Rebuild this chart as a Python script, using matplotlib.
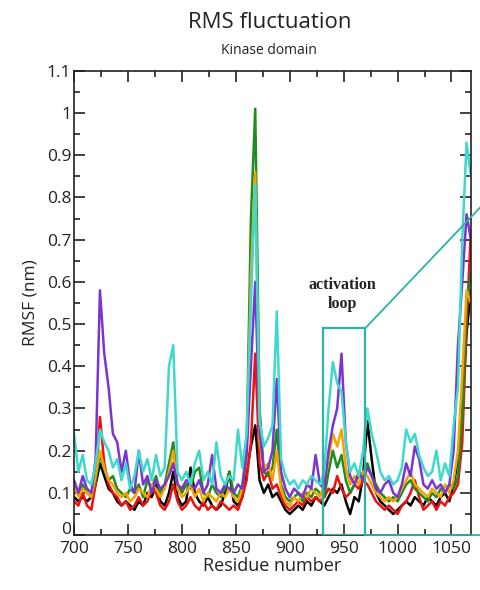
import numpy as np
import matplotlib
matplotlib.use("Agg")
import matplotlib.pyplot as plt
import matplotlib.transforms as mtransforms
from matplotlib.patches import Rectangle
from matplotlib.ticker import MultipleLocator

# residues sampled every 4
residues = list(range(700, 1069, 4))

black = [0.09, 0.08, 0.09, 0.08, 0.09, 0.12, 0.17, 0.14, 0.11, 0.10,
         0.08, 0.07, 0.08, 0.07, 0.06, 0.08, 0.07, 0.10, 0.09, 0.12,
         0.08, 0.07, 0.10, 0.15, 0.09, 0.07, 0.08, 0.16, 0.10, 0.08,
         0.07, 0.09, 0.07, 0.06, 0.07, 0.10, 0.15, 0.08, 0.07, 0.09,
         0.15, 0.21, 0.26, 0.13, 0.10, 0.12, 0.09, 0.10, 0.08, 0.06,
         0.05, 0.06, 0.07, 0.06, 0.08, 0.07, 0.09, 0.08, 0.07, 0.09,
         0.11, 0.10, 0.12, 0.08, 0.05, 0.09, 0.08, 0.14, 0.27, 0.18,
         0.10, 0.08, 0.07, 0.06, 0.05, 0.06, 0.07, 0.08, 0.07, 0.09,
         0.08, 0.07, 0.09, 0.08, 0.07, 0.09, 0.10, 0.08, 0.12, 0.18,
         0.30, 0.48, 0.58]

red = [0.08, 0.07, 0.10, 0.07, 0.06, 0.12, 0.28, 0.17, 0.12, 0.10,
       0.09, 0.07, 0.08, 0.06, 0.07, 0.09, 0.07, 0.08, 0.11, 0.10,
       0.07, 0.06, 0.08, 0.12, 0.08, 0.06, 0.07, 0.09, 0.07, 0.06,
       0.08, 0.06, 0.07, 0.06, 0.08, 0.07, 0.06, 0.07, 0.06, 0.09,
       0.13, 0.22, 0.43, 0.17, 0.13, 0.15, 0.11, 0.12, 0.09, 0.07,
       0.06, 0.07, 0.08, 0.07, 0.09, 0.08, 0.09, 0.08, 0.09, 0.11,
       0.10, 0.14, 0.11, 0.09, 0.10, 0.12, 0.11, 0.13, 0.12, 0.10,
       0.08, 0.07, 0.06, 0.07, 0.06, 0.05, 0.07, 0.08, 0.10, 0.13,
       0.09, 0.06, 0.07, 0.08, 0.06, 0.08, 0.07, 0.09, 0.10, 0.12,
       0.22, 0.50, 0.72]

green = [0.11, 0.10, 0.12, 0.10, 0.09, 0.13, 0.19, 0.16, 0.13, 0.14,
         0.11, 0.10, 0.09, 0.11, 0.10, 0.12, 0.09, 0.13, 0.11, 0.14,
         0.10, 0.12, 0.17, 0.22, 0.12, 0.10, 0.12, 0.11, 0.15, 0.16,
         0.10, 0.09, 0.12, 0.10, 0.09, 0.11, 0.15, 0.10, 0.09, 0.12,
         0.20, 0.75, 1.01, 0.30, 0.15, 0.14, 0.16, 0.25, 0.12, 0.09,
         0.08, 0.09, 0.10, 0.08, 0.10, 0.09, 0.11, 0.10, 0.09, 0.15,
         0.20, 0.16, 0.19, 0.13, 0.10, 0.12, 0.14, 0.15, 0.17, 0.14,
         0.12, 0.10, 0.09, 0.08, 0.09, 0.08, 0.10, 0.12, 0.13, 0.11,
         0.10, 0.09, 0.08, 0.10, 0.09, 0.11, 0.10, 0.12, 0.11, 0.14,
         0.28, 0.55, 0.62]

orange = [0.12, 0.09, 0.11, 0.10, 0.09, 0.14, 0.20, 0.16, 0.13, 0.12,
          0.10, 0.09, 0.10, 0.08, 0.09, 0.11, 0.10, 0.09, 0.12, 0.11,
          0.09, 0.11, 0.15, 0.20, 0.11, 0.09, 0.10, 0.12, 0.09, 0.11,
          0.08, 0.10, 0.09, 0.08, 0.10, 0.09, 0.11, 0.09, 0.08, 0.11,
          0.18, 0.62, 0.86, 0.22, 0.16, 0.17, 0.13, 0.20, 0.11, 0.08,
          0.07, 0.09, 0.08, 0.10, 0.09, 0.11, 0.10, 0.09, 0.12, 0.18,
          0.24, 0.21, 0.25, 0.16, 0.12, 0.14, 0.12, 0.15, 0.14, 0.12,
          0.10, 0.09, 0.08, 0.09, 0.08, 0.09, 0.11, 0.13, 0.15, 0.12,
          0.11, 0.10, 0.09, 0.11, 0.10, 0.09, 0.12, 0.10, 0.13, 0.20,
          0.38, 0.58, 0.55]

purple = [0.13, 0.10, 0.14, 0.11, 0.10, 0.18, 0.58, 0.43, 0.35, 0.24,
          0.22, 0.15, 0.20, 0.12, 0.10, 0.20, 0.12, 0.14, 0.10, 0.13,
          0.11, 0.12, 0.14, 0.17, 0.12, 0.11, 0.13, 0.12, 0.11, 0.13,
          0.10, 0.12, 0.19, 0.11, 0.10, 0.12, 0.11, 0.10, 0.12, 0.11,
          0.19, 0.40, 0.60, 0.25, 0.15, 0.16, 0.20, 0.37, 0.15, 0.11,
          0.09, 0.11, 0.10, 0.09, 0.12, 0.11, 0.19, 0.12, 0.11, 0.20,
          0.26, 0.30, 0.43, 0.22, 0.14, 0.12, 0.15, 0.13, 0.16, 0.14,
          0.11, 0.10, 0.12, 0.13, 0.10, 0.09, 0.12, 0.17, 0.14, 0.21,
          0.18, 0.12, 0.11, 0.13, 0.11, 0.12, 0.10, 0.12, 0.20, 0.45,
          0.60, 0.76, 0.70]

turquoise = [0.24, 0.15, 0.19, 0.13, 0.12, 0.17, 0.25, 0.22, 0.20, 0.16,
             0.18, 0.13, 0.17, 0.11, 0.14, 0.20, 0.15, 0.18, 0.13, 0.19,
             0.14, 0.16, 0.40, 0.45, 0.15, 0.13, 0.15, 0.12, 0.17, 0.20,
             0.13, 0.15, 0.12, 0.22, 0.14, 0.12, 0.14, 0.13, 0.25, 0.16,
             0.24, 0.55, 0.83, 0.27, 0.21, 0.23, 0.26, 0.53, 0.18, 0.14,
             0.12, 0.13, 0.11, 0.13, 0.12, 0.14, 0.13, 0.12, 0.15, 0.30,
             0.41, 0.36, 0.34, 0.22, 0.15, 0.17, 0.14, 0.20, 0.30, 0.24,
             0.20, 0.15, 0.13, 0.14, 0.12, 0.13, 0.16, 0.25, 0.22, 0.24,
             0.19, 0.16, 0.14, 0.15, 0.20, 0.13, 0.17, 0.14, 0.26, 0.35,
             0.70, 0.93, 0.85]

series = [(black, "black"), (red, "#ee1111"), (green, "#1e8c1e"),
          (orange, "#f5a300"), (purple, "#7a35d0"), (turquoise, "#3fd8cc")]

box_x = (931, 970)
box_top = 0.49

plt.rcParams['font.family'] = ['Open Sans', 'DejaVu Sans']

fig = plt.figure(figsize=(4.81, 5.90), dpi=100)
ax = fig.add_axes([0.154, 0.093, 0.825, 0.787])

for vals, col in series:
    ax.plot(residues, vals, color=col, lw=1.8)

ax.set_xlim(700, 1068)
ax.set_ylim(0, 1.1)
ax.xaxis.set_major_locator(MultipleLocator(50))
ax.xaxis.set_minor_locator(MultipleLocator(25))
ax.yaxis.set_major_locator(MultipleLocator(0.1))
ax.yaxis.set_minor_locator(MultipleLocator(0.05))
ax.set_yticks([0, 0.1, 0.2, 0.3, 0.4, 0.5, 0.6, 0.7, 0.8, 0.9, 1, 1.1])
ax.set_yticklabels(["0", "0.1", "0.2", "0.3", "0.4", "0.5", "0.6", "0.7",
                    "0.8", "0.9", "1", "1.1"])
ax.tick_params(which='both', direction='in', top=True, right=True,
               labelsize=12.5, width=1.2, colors='#222222', pad=2)
ax.tick_params(axis='x', pad=4)
ax.tick_params(which='major', length=8)
ax.tick_params(which='minor', length=4)
for sp in ax.spines.values():
    sp.set_linewidth(1.2)
    sp.set_color('#222222')

# lift the "0" label a little so it clears "700"
zero_lab = ax.get_yticklabels()[0]
zero_lab.set_transform(zero_lab.get_transform() +
                       mtransforms.ScaledTranslation(0, 5 / 72, fig.dpi_scale_trans))

ax.set_xlabel("Residue number", fontsize=13, color='#222222', labelpad=0)
ax.set_ylabel("RMSF (nm)", fontsize=12.5, color='#222222', labelpad=6)

fig.text(0.56, 0.962, "RMS fluctuation", ha='center', va='center',
         fontsize=16, color='#222222')
fig.text(0.56, 0.915, "Kinase domain", ha='center', va='center',
         fontsize=10, color='#222222')

box_col = "#2ab3a6"
ax.add_patch(Rectangle((box_x[0], 0), box_x[1] - box_x[0], box_top,
                       fill=False, ec=box_col, lw=1.6, zorder=5))
ax.plot([box_x[1], 1078], [box_top, 0.78], color=box_col, lw=1.3,
        clip_on=False, zorder=5)
ax.plot([box_x[1], 1078], [0, 0], color=box_col, lw=1.3,
        clip_on=False, zorder=5)

ax.text(949, 0.57, "activation\nloop", ha='center', va='center',
        fontsize=11.5, weight='bold',
        family=['Liberation Serif', 'DejaVu Serif'],
        color='#222222', linespacing=1.3)

fig.savefig("out.png", dpi=100)
